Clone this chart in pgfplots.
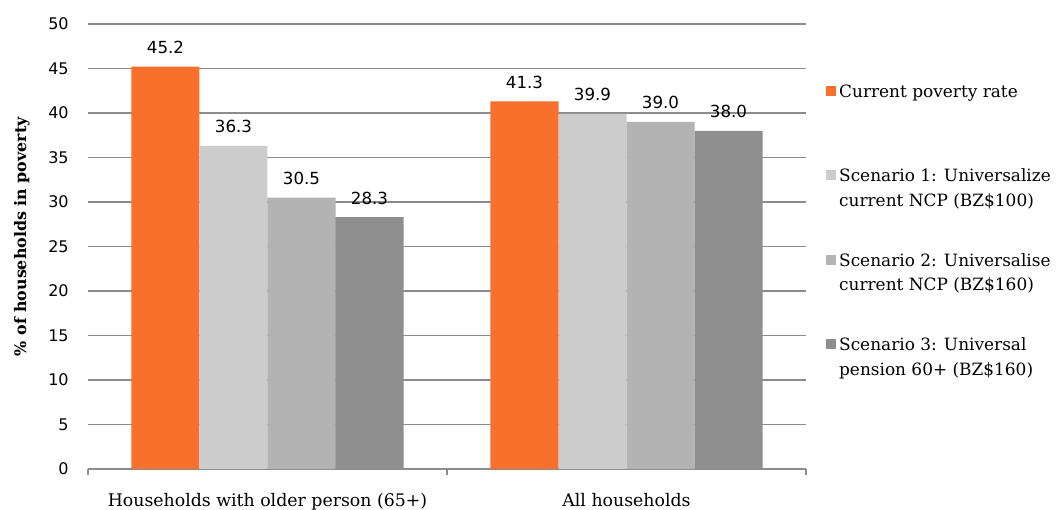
\documentclass[border=0pt]{standalone}
\usepackage{pgfplots}
\pgfplotsset{compat=1.18}
\usepackage{fontspec}
\setmainfont{DejaVu Serif}
\setsansfont{DejaVu Sans}
\definecolor{cOrange}{RGB}{247,112,44}
\definecolor{cLight}{RGB}{204,204,204}
\definecolor{cMid}{RGB}{179,179,179}
\definecolor{cDark}{RGB}{142,142,142}
\definecolor{cGrid}{RGB}{140,140,140}
\pgfplotsset{sqlegend/.style={legend image code/.code={\fill[##1] (0pt,-10.9pt) rectangle (7.5pt,-3.4pt);}}}
\begin{document}
\begin{tikzpicture}
\useasboundingbox (0pt,0pt) rectangle (793.5pt,382.5pt);
\begin{axis}[
 at={(66pt,30.75pt)}, anchor=south west,
 scale only axis, width=538.5pt, height=333.75pt,
 ybar=0pt, bar width=51pt,
 xmin=-0.5, xmax=1.5, ymin=0, ymax=50,
 xtick={0,1}, xticklabels={Households with older person (65+), All households},
 ytick={0,5,...,50},
 axis x line*=bottom, axis y line*=left,
 y axis line style={draw=none},
 x axis line style={cGrid, line width=1pt, -},
 ymajorgrids, grid style={cGrid, line width=1pt},
 major tick length=0pt,
 extra x ticks={-0.5,0.5,1.5}, extra x tick labels={},
 extra x tick style={major tick length=4.5pt, tick align=outside, tick style={cGrid, line width=1pt}},
 /pgf/number format/assume math mode=true,
 yticklabel style={font=\sffamily\fontsize{12}{14}\selectfont, text=black, xshift=-11pt},
 xticklabel style={font=\rmfamily\fontsize{13}{15}\selectfont, text=black, yshift=-14.5pt},
 ylabel={\textbf{\% of households in poverty}},
 ylabel style={at={(axis description cs:-0.092,0.5225)}, anchor=center, font=\fontsize{11.9}{14}\selectfont},
 nodes near coords={\pgfmathprintnumber[fixed,fixed zerofill,precision=1]{\pgfplotspointmeta}},
 every node near coord/.append style={font=\sffamily\fontsize{12.5}{14}\selectfont, text=black, yshift=6pt},
 legend style={draw=none, fill=none, at={(axis description cs:1.0226,0.877)}, anchor=north west,
   font=\fontsize{12.7}{18.5}\selectfont, cells={anchor=north west, align=left}, row sep=29.5pt},
]
\addplot[fill=cOrange, draw=none, sqlegend] coordinates {(0,45.2) (1,41.3)};
\addlegendentry{Current poverty rate\\\rule[-3pt]{0pt}{1pt}}
\addplot[fill=cLight, draw=none, sqlegend] coordinates {(0,36.3) (1,39.9)};
\addlegendentry{Scenario 1: Universalize\\current NCP (BZ\$100)}
\addplot[fill=cMid, draw=none, sqlegend] coordinates {(0,30.5) (1,39.0)};
\addlegendentry{Scenario 2: Universalise\\current NCP (BZ\$160)}
\addplot[fill=cDark, draw=none, sqlegend] coordinates {(0,28.3) (1,38.0)};
\addlegendentry{Scenario 3: Universal\\pension 60+ (BZ\$160)}
\end{axis}
\end{tikzpicture}
\end{document}
